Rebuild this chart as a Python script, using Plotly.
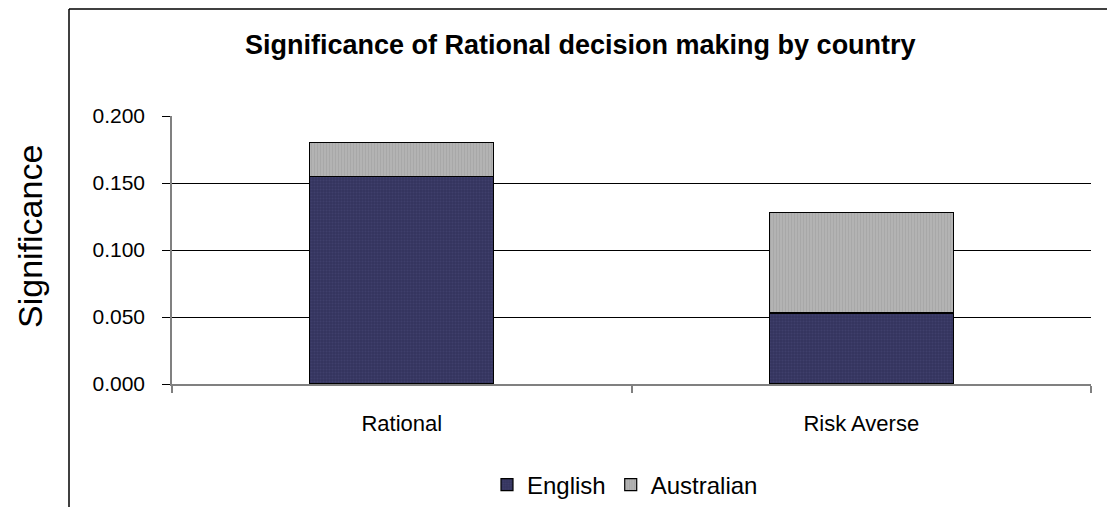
import plotly.graph_objects as go

# Significance values per decision style, stacked by country
categories = ["Rational", "Risk Averse"]
english = [0.155, 0.053]
australian = [0.025, 0.075]
y_ticks = [0.0, 0.05, 0.10, 0.15, 0.20]

W, H = 1107, 507


def px_x(x):
    return x / W


def px_y(y):
    return 1 - y / H


FONT = "Liberation Sans, Arial, sans-serif"

fig = go.Figure()
fig.add_trace(go.Bar(
    name="English", x=categories, y=english,
    marker=dict(color="#34345e", line=dict(color="#000000", width=1.2),
                pattern=dict(shape=".", fillmode="overlay", fgcolor="#4a4a78",
                             size=3, solidity=0.35)),
))
fig.add_trace(go.Bar(
    name="Australian", x=categories, y=australian,
    marker=dict(color="#b4b4b4", line=dict(color="#000000", width=1.2),
                pattern=dict(shape="|", fillmode="overlay", fgcolor="#9c9c9c",
                             size=3, solidity=0.4)),
))

fig.update_layout(
    width=W, height=H, autosize=False,
    margin=dict(l=0, r=0, t=0, b=0, autoexpand=False),
    paper_bgcolor="white", plot_bgcolor="white",
    barmode="stack", bargap=0.6,
    font=dict(family=FONT, color="#000000"),
    showlegend=True,
    legend=dict(orientation="h", x=px_x(625), xanchor="center",
                y=px_y(485), yanchor="middle",
                font=dict(size=24), traceorder="normal",
                itemwidth=30, entrywidthmode="pixels"),
    xaxis=dict(domain=[px_x(172), px_x(1091)], showline=True,
               linecolor="#808080", linewidth=1.5, ticks="outside",
               tickson="boundaries", ticklen=7, tickcolor="#808080",
               tickwidth=1.5, tickfont=dict(size=22),
               ticklabelstandoff=19, showgrid=False, automargin=False),
    yaxis=dict(domain=[px_y(384), px_y(116)], range=[0, 0.2],
               tickvals=y_ticks, tickformat=".3f", showline=True,
               linecolor="#808080", linewidth=1.5, ticks="outside",
               ticklen=8, tickcolor="#000000", tickfont=dict(size=21),
               showgrid=True, gridcolor="#000000", gridwidth=1,
               zeroline=False, ticklabelstandoff=13, automargin=False),
    annotations=[
        dict(text="<b>Significance of Rational decision making by country</b>",
             xref="paper", yref="paper", x=px_x(580), y=px_y(45),
             xanchor="center", yanchor="middle", showarrow=False,
             font=dict(size=27)),
        dict(text="Significance", xref="paper", yref="paper",
             x=px_x(30), y=px_y(237), xanchor="center", yanchor="middle",
             textangle=-90, showarrow=False, font=dict(size=34)),
    ],
    shapes=[
        dict(type="line", xref="paper", yref="paper",
             x0=px_x(69), x1=px_x(69), y0=px_y(9), y1=0,
             line=dict(color="#000000", width=1.5)),
        dict(type="line", xref="paper", yref="paper",
             x0=px_x(69), x1=1, y0=px_y(9), y1=px_y(9),
             line=dict(color="#000000", width=1.5)),
    ],
)

fig.write_html("out.html")
